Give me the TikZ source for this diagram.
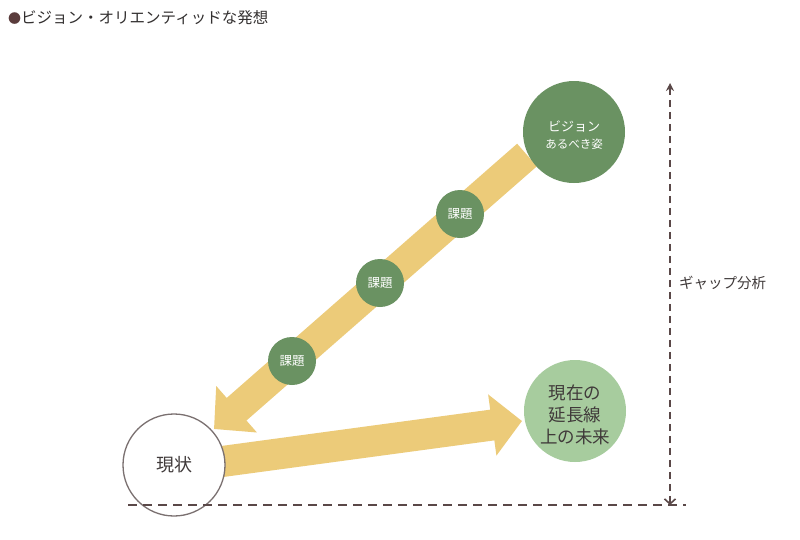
\documentclass[tikz,border=0pt]{standalone}
\usepackage{fontspec}
\setmainfont{Noto Sans CJK JP}
\usetikzlibrary{arrows.meta}
\definecolor{dgreen}{HTML}{6A9262}
\definecolor{lgreen}{HTML}{A7CC9E}
\definecolor{ybar}{HTML}{ECCB79}
\definecolor{dline}{HTML}{5A4848}
\definecolor{txt}{HTML}{403A3A}
\definecolor{ttxt}{HTML}{333030}
\definecolor{bul}{HTML}{5A3C3C}
\definecolor{ring}{HTML}{7A7070}
\begin{document}
\begin{tikzpicture}[x=1pt,y=-1pt,
  bigarrow/.style={draw=ybar, line cap=butt, -{Triangle[length=30pt,width=60pt]}},
  kadai/.style={circle, fill=dgreen, minimum size=48pt, inner sep=0pt, text=white, font=\fontsize{12.5}{14}\selectfont},
  gapline/.style={draw=dline, line width=2.3pt}]
\useasboundingbox (0,0) rectangle (800,539);
\fill[white] (0,0) rectangle (800,539);

% title
\node[anchor=west, inner sep=0pt, text=ttxt, font=\fontsize{15.5}{18}\selectfont] (title) at (8,18) {{\color{bul}\fontsize{13}{15}\selectfont●}ビジョン・オリエンティッドな発想};

% arrow coordinates
\coordinate (a1s) at (527,155);
\coordinate (a1e) at (214,429);
\coordinate (a2s) at (200,464.5);
\coordinate (a2e) at (522,421);

% big yellow arrows
\draw[bigarrow, line width=30pt] (a1s) -- (a1e);
\draw[bigarrow, line width=31pt] (a2s) -- (a2e);

% circles
\node[circle, fill=dgreen, minimum size=102pt, inner sep=0pt] (vision) at (574,132) {};
\node[text=white, font=\fontsize{13}{15}\selectfont, inner sep=0pt] (visT) at (574,127) {ビジョン};
\node[text=white, font=\fontsize{11.5}{13}\selectfont, inner sep=0pt] (visS) at (574,144) {あるべき姿};

\node[circle, draw=ring, line width=1.3pt, fill=white, minimum size=102pt, inner sep=0pt, text=txt, font=\fontsize{18}{20}\selectfont] (genjo) at (174,465) {現状};

\node[circle, fill=lgreen, minimum size=102pt, inner sep=0pt] (mirai) at (575,411) {};
\node[text=txt, align=center, inner sep=0pt, font=\fontsize{17.5}{22}\selectfont] (miraiT) at (575,415) {現在の\\延長線\\上の未来};

\node[kadai] (k1) at (460,214) {課題};
\node[kadai] (k2) at (380,283) {課題};
\node[kadai] (k3) at (292,361) {課題};

% dashed gap lines
\coordinate (hl) at (128,505);
\coordinate (hr) at (686,505);
\coordinate (vt) at (670,83);
\coordinate (vb) at (670,505);
\draw[gapline, dash pattern=on 9pt off 6pt] (hl) -- (hr);
\draw[gapline, dash pattern=on 7pt off 5pt, {Stealth[length=8pt,width=8pt]}-{Straight Barb[length=5pt,width=11pt,line width=1.6pt]}] (vt) -- (vb);

\node[anchor=west, inner sep=0pt, text=txt, font=\fontsize{14.5}{17}\selectfont] (gap) at (679,283) {ギャップ分析};
\end{tikzpicture}
\end{document}
